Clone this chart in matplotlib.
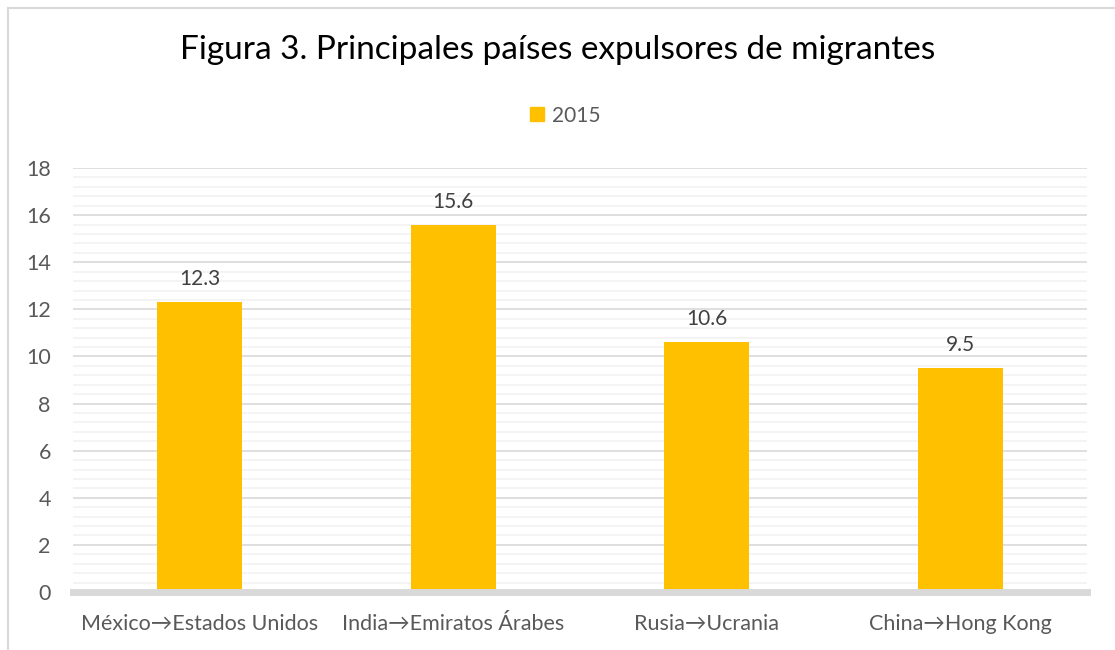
import matplotlib.pyplot as plt
from matplotlib.lines import Line2D
from matplotlib.patches import Patch
import numpy as np

plt.rcParams['font.family'] = ['Lato', 'DejaVu Sans']

categories = ['México→Estados Unidos', 'India→Emiratos Árabes',
              'Rusia→Ucrania', 'China→Hong Kong']
values_2015 = [12.3, 15.6, 10.6, 9.5]
series_name = '2015'
title = 'Figura 3. Principales países expulsores de migrantes'

text_col = '#595959'
bar_col = '#FFC000'

fig = plt.figure(figsize=(11.15, 6.5), dpi=100)
ax = fig.add_axes([0.0655, 0.0892, 0.9095, 0.6523])

x = np.arange(len(categories))
ax.bar(x, values_2015, width=0.335, color=bar_col, zorder=3)
for xi, v in zip(x, values_2015):
    ax.text(xi, v + 0.55, f'{v:g}', ha='center', va='bottom',
            fontsize=15, color='#404040')

ax.set_xlim(-0.5, len(categories) - 0.5)
ax.set_ylim(0, 18)
ax.set_yticks(np.arange(0, 19, 2))
ax.set_yticks(np.arange(0, 18.01, 0.4), minor=True)
ax.grid(axis='y', which='major', color='#D9D9D9', lw=1.2, zorder=1)
ax.grid(axis='y', which='minor', color='#F2F2F2', lw=1.2, zorder=0)
ax.tick_params(axis='both', which='both', length=0, labelsize=15.5,
               labelcolor=text_col)
ax.tick_params(axis='y', pad=16)
ax.tick_params(axis='x', pad=16)
ax.set_xticks(x)
ax.set_xticklabels(categories)
for s in ['top', 'right', 'left']:
    ax.spines[s].set_visible(False)
ax.spines['bottom'].set_color('#D9D9D9')
ax.spines['bottom'].set_linewidth(5)
ax.spines['bottom'].set_zorder(4)

fig.text(0.5, 0.923, title, ha='center', va='center', fontsize=24,
         color='black')
handles = [Patch(color=bar_col, label=series_name)]
fig.legend(handles=handles, loc='center', bbox_to_anchor=(0.507, 0.822),
           frameon=False, fontsize=15, handlelength=0.65, handleheight=0.65,
           handletextpad=0.4, labelcolor=text_col)

# chart frame (cropped at right and bottom)
fig.add_artist(Line2D([8 / 1115, 1], [1 - 8 / 650, 1 - 8 / 650],
                      color='#D9D9D9', lw=1.5, transform=fig.transFigure))
fig.add_artist(Line2D([8 / 1115, 8 / 1115], [0, 1 - 8 / 650],
                      color='#D9D9D9', lw=1.5, transform=fig.transFigure))

fig.savefig('out.png', dpi=100)
